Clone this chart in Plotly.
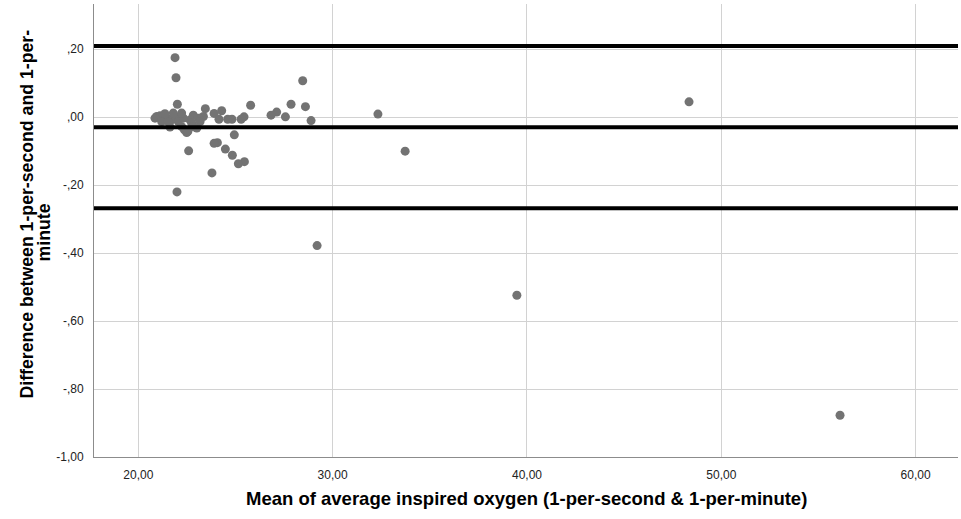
import plotly.graph_objects as go

# Mean of average inspired oxygen (x) and difference (y)
x_mean = [21.89, 21.94, 22.01, 21.99, 22.59, 23.79, 28.46, 28.60, 28.89, 27.86,
          27.57, 27.12, 26.83, 25.78, 25.44, 25.29, 25.46, 25.15, 24.84, 24.48,
          24.94, 24.07, 23.90, 24.82, 24.60, 24.29, 24.15, 23.90, 23.45, 23.35,
          23.09, 22.83, 22.66, 23.01, 22.49, 22.37, 22.23, 21.63, 22.15, 21.89,
          21.72, 21.46, 21.29, 21.12, 20.95, 20.86, 21.20, 21.54, 22.06, 22.32,
          22.23, 21.80, 21.37, 22.75, 23.18, 22.83, 22.55, 32.33, 33.73, 29.20,
          39.48, 48.34, 56.11]
difference = [0.175, 0.116, 0.038, -0.220, -0.099, -0.164, 0.107, 0.031, -0.010, 0.038,
              0.001, 0.015, 0.006, 0.035, 0.001, -0.006, -0.131, -0.137, -0.112, -0.094,
              -0.052, -0.075, -0.077, -0.006, -0.006, 0.019, -0.006, 0.011, 0.025, 0.002,
              -0.003, 0.006, -0.008, -0.032, -0.045, -0.037, -0.028, -0.029, 0.002, 0.002,
              -0.008, -0.003, 0.002, 0.004, 0.002, -0.003, -0.013, -0.013, -0.013, -0.003,
              0.012, 0.012, 0.010, -0.018, -0.013, -0.028, -0.042, 0.009, -0.100, -0.378,
              -0.524, 0.045, -0.877]

# Bland-Altman reference lines: upper limit, mean difference, lower limit
reference_lines = [0.2097, -0.0294, -0.268]

x_tickvals = [20, 30, 40, 50, 60]
x_ticktext = ["20,00", "30,00", "40,00", "50,00", "60,00"]
y_tickvals = [0.2, 0.0, -0.2, -0.4, -0.6, -0.8, -1.0]
y_ticktext = [",20", ",00", "-,20", "-,40", "-,60", "-,80", "-1,00"]

x_title = "Mean of average inspired oxygen (1-per-second & 1-per-minute)"
y_title_lines = ["Difference between 1-per-second and 1-per-", "minute"]

FONT = "Liberation Sans, Arial, sans-serif"

fig = go.Figure()
fig.add_trace(go.Scatter(
    x=x_mean, y=difference, mode="markers",
    marker=dict(size=9, color="rgb(115,115,115)", line=dict(width=0)),
    showlegend=False, hoverinfo="x+y",
))

for v in reference_lines:
    fig.add_shape(type="line", xref="paper", x0=0, x1=1, yref="y", y0=v, y1=v,
                  line=dict(color="black", width=4), layer="above")

fig.update_layout(
    width=961, height=519,
    margin=dict(l=94, r=3, t=4, b=62),
    plot_bgcolor="white", paper_bgcolor="white",
    font=dict(family=FONT, size=12, color="#222222"),
    xaxis=dict(range=[17.72, 62.18], tickvals=x_tickvals, ticktext=x_ticktext,
               showgrid=True, gridcolor="#d2d2d2", gridwidth=1,
               showline=True, linecolor="#8c8c8c", linewidth=1,
               zeroline=False, ticks="", ticklabelstandoff=7,
               tickfont=dict(size=12, color="#222222")),
    yaxis=dict(range=[-1.0, 0.333], tickvals=y_tickvals, ticktext=y_ticktext,
               showgrid=True, gridcolor="#d2d2d2", gridwidth=1,
               showline=True, linecolor="#8c8c8c", linewidth=1,
               zeroline=False, ticks="", ticklabelstandoff=7,
               tickfont=dict(size=12, color="#222222")),
    annotations=[
        dict(text="<b>" + x_title + "</b>", xref="paper", yref="paper",
             x=0.5, y=0, yshift=-41, xanchor="center", yanchor="middle",
             showarrow=False, font=dict(family=FONT, size=18.5, color="black")),
        dict(text="<b>" + y_title_lines[0] + "</b>", xref="paper", yref="paper",
             x=0, xshift=-68, y=0.5, yshift=16, xanchor="center", yanchor="middle",
             textangle=-90, showarrow=False,
             font=dict(family=FONT, size=17.7, color="black")),
        dict(text="<b>" + y_title_lines[1] + "</b>", xref="paper", yref="paper",
             x=0, xshift=-51, y=0.5, yshift=-2, xanchor="center", yanchor="middle",
             textangle=-90, showarrow=False,
             font=dict(family=FONT, size=17.7, color="black")),
    ],
)

fig.write_html("out.html", config={"displayModeBar": False},
               post_script="document.body.style.margin='0';")
